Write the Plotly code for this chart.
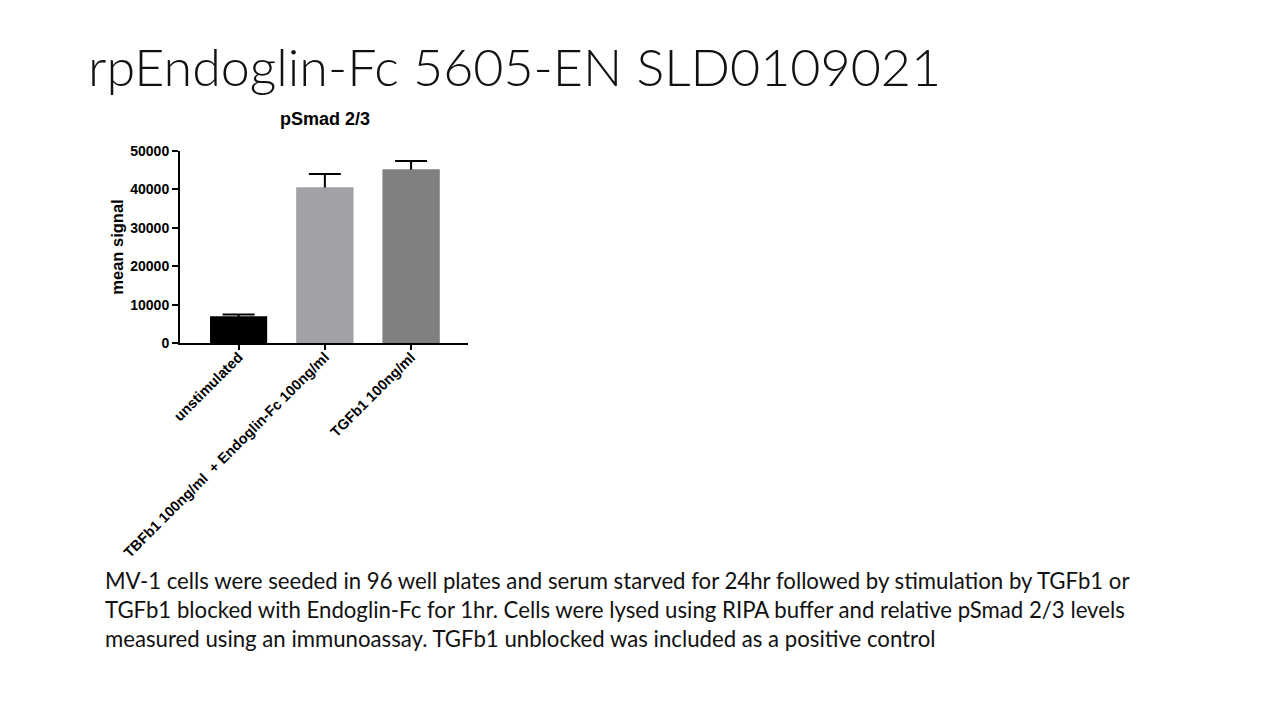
import plotly.graph_objects as go

W, H = 1280, 720
PAGE_OFFSET = 8  # body margin of the html page

# data
categories = [
    "unstimulated",
    "TBFb1 100ng/ml  + Endoglin-Fc 100ng/ml",
    "TGFb1 100ng/ml",
]
mean_signal = [6900, 40500, 45200]
sem_upper = [550, 3500, 2200]
bar_colors = ["#000000", "#a2a2a6", "#808080"]

y_ticks = [0, 10000, 20000, 30000, 40000, 50000]

slide_title = "rpEndoglin-Fc 5605-EN SLD0109021"
chart_title = "pSmad 2/3"
caption_lines = [
    "MV-1 cells were seeded in 96 well plates and serum starved for 24hr followed by stimulation by TGFb1 or",
    "TGFb1 blocked with Endoglin-Fc for 1hr. Cells were lysed using RIPA buffer and relative pSmad 2/3 levels",
    "measured using an immunoassay. TGFb1 unblocked was included as a positive control",
]

ARIAL = "Liberation Sans, Arial, sans-serif"
BODY = "Lato, Open Sans, sans-serif"


def px_x(x):
    return (x - PAGE_OFFSET) / W


def px_y(y):
    return 1 - (y - PAGE_OFFSET) / H


fig = go.Figure()

# bars carrying the error bars (lower half gets covered by the second trace)
fig.add_trace(go.Bar(
    x=categories, y=mean_signal,
    marker=dict(color=bar_colors, line=dict(width=0)),
    error_y=dict(type="data", array=sem_upper, symmetric=True,
                 color="black", thickness=2, width=16),
    showlegend=False, hoverinfo="skip",
))
# same bars on top, hides the part of the error bar inside the bar
fig.add_trace(go.Bar(
    x=categories, y=mean_signal,
    marker=dict(color=bar_colors, line=dict(width=0)),
    showlegend=False,
))

fig.update_layout(
    width=W, height=H,
    margin=dict(l=0, r=0, t=0, b=0, pad=0, autoexpand=False),
    paper_bgcolor="white", plot_bgcolor="white",
    barmode="overlay", bargap=0.34,
    showlegend=False,
)

fig.update_xaxes(
    domain=[px_x(180), px_x(468)],
    range=[-0.68, 2.66],
    automargin=False,
    showline=True, linecolor="black", linewidth=2,
    ticks="outside", ticklen=5, tickwidth=2, tickcolor="black",
    tickangle=-45, ticklabelstandoff=-7,
    tickfont=dict(family=ARIAL, size=14.5, color="black", weight="bold"),
    showgrid=False, zeroline=False,
)
fig.update_yaxes(
    domain=[px_y(343), px_y(151)],
    range=[0, 50000],
    automargin=False,
    tickvals=y_ticks, ticktext=[str(v) for v in y_ticks],
    showline=True, linecolor="black", linewidth=2,
    ticks="outside", ticklen=6, tickwidth=2, tickcolor="black",
    tickfont=dict(family=ARIAL, size=14, color="black", weight="bold"),
    title=dict(text="mean signal", standoff=2,
               font=dict(family=ARIAL, size=16.5, color="black", weight="bold")),
    showgrid=False, zeroline=False,
)

annotations = [
    dict(text=slide_title, x=px_x(86), y=px_y(66), xanchor="left", yanchor="middle",
         font=dict(family=BODY, size=52, color="#111111", weight=300)),
    dict(text="<b>" + chart_title + "</b>", x=px_x(325), y=px_y(119),
         xanchor="center", yanchor="middle",
         font=dict(family=ARIAL, size=18, color="black")),
    dict(text="<br>".join(caption_lines), x=px_x(103), y=px_y(609),
         xanchor="left", yanchor="middle", align="left",
         font=dict(family=BODY, size=22.2, color="#111111")),
]
for a in annotations:
    a.update(xref="paper", yref="paper", showarrow=False)
fig.update_layout(annotations=annotations)

fig.write_html("out.html")
